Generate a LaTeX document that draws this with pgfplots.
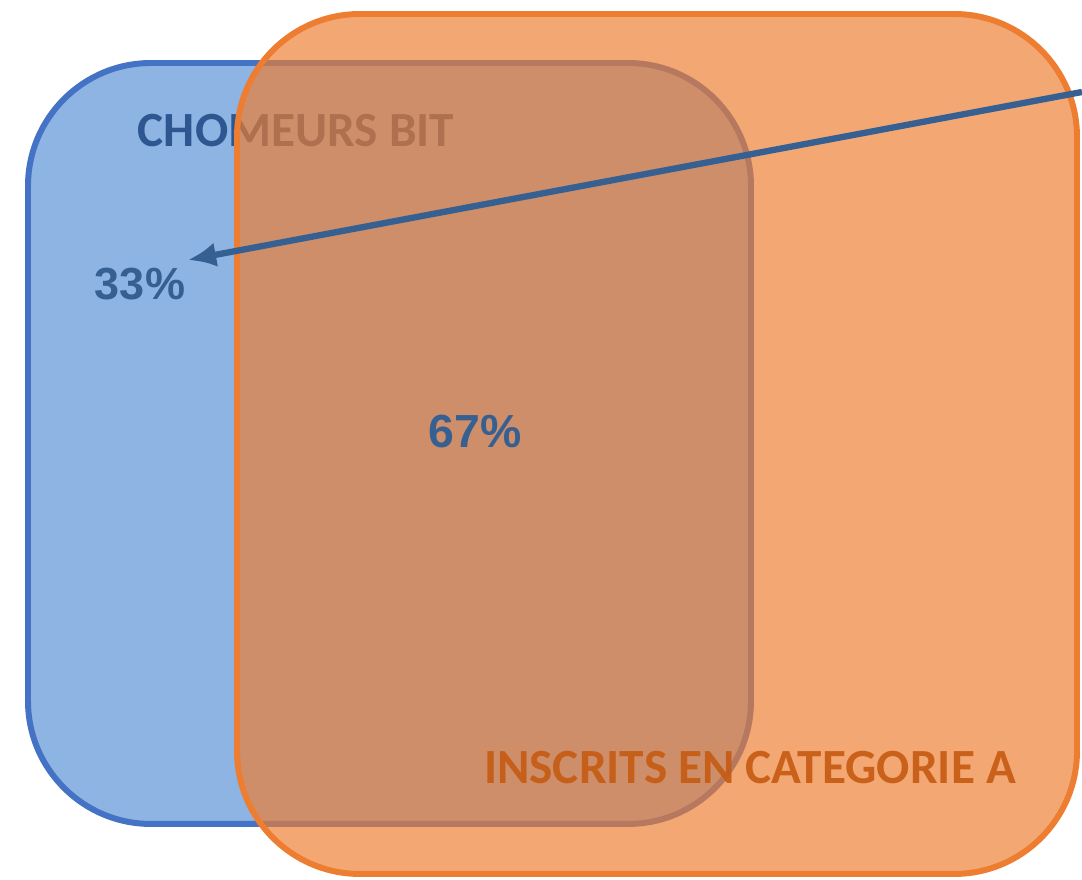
\documentclass[border=0pt]{standalone}
\usepackage{fontspec}
\setmainfont{Carlito}
\newfontfamily\arial{Liberation Sans}
\usepackage{pgfplots}
\pgfplotsset{compat=1.18}
\usetikzlibrary{arrows.meta}

\definecolor{bitfill}{HTML}{8DB4E2}
\definecolor{bitline}{HTML}{4472C4}
\definecolor{bittext}{HTML}{2E5690}
\definecolor{catA}{HTML}{ED7D31}
\definecolor{catAtext}{HTML}{C55A11}
\definecolor{pct}{HTML}{376092}

\begin{document}
\begin{tikzpicture}
\begin{axis}[
  width=10.82cm, height=8.8cm, scale only axis,
  xmin=0, xmax=1082, ymin=0, ymax=880,
  hide axis,
]

% frame of the picture (invisible)
\addplot [draw=none] coordinates {(0,0) (1082,880)};

% chomeurs BIT (blue box)
\addplot [draw=bitline, line width=1.7pt, fill=bitfill, rounded corners=35pt]
coordinates {
(388,817) (751,817) (751,56) (28,56) (28,817) (388,817)
};
\node [font=\bfseries\fontsize{14}{16}\selectfont, text=bittext]
  at (axis cs:296,749) {CHOMEURS BIT};

% inscrits en categorie A (orange box)
\addplot [draw=catA, line width=1.7pt, fill=catA, fill opacity=0.68, rounded corners=35pt]
coordinates {
(656,866) (1077,866) (1077,6) (237,6) (237,866) (656,866)
};
\node [font=\bfseries\fontsize{14}{16}\selectfont, text=catAtext, text opacity=0.9]
  at (axis cs:750,112) {INSCRITS EN CATEGORIE A};

% shares
\node [font=\arial\bfseries\fontsize{12.8}{15}\selectfont, text=pct]
  at (axis cs:140,596) {33\%};
\node [font=\arial\bfseries\fontsize{13.2}{15}\selectfont, text=pct]
  at (axis cs:475,448) {67\%};

% arrow
\addplot [pct, line width=1.8pt, -{Latex[length=8pt,width=7pt]}]
coordinates {(1082,788) (188,620)};

\end{axis}
\end{tikzpicture}
\end{document}
